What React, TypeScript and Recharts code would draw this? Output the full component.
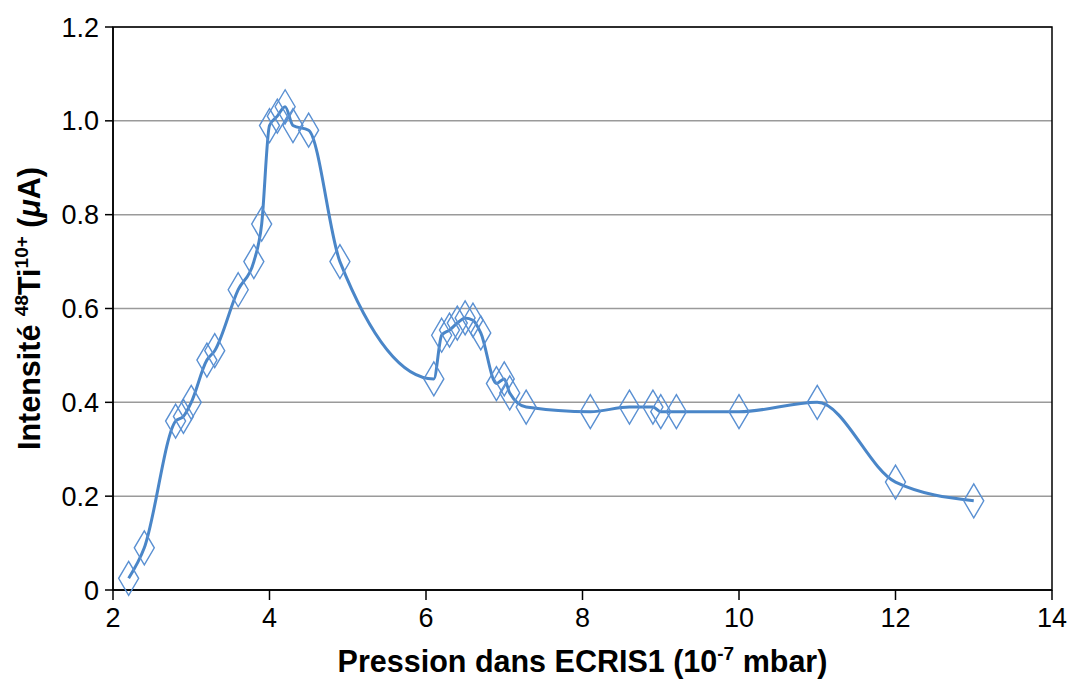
import React from 'react';
import { LineChart, Line, XAxis, YAxis, CartesianGrid, ReferenceArea } from 'recharts';

const pressure = [2.2, 2.4, 2.8, 2.9, 3.0, 3.2, 3.3, 3.6, 3.8, 3.9, 4.0, 4.1, 4.2, 4.3, 4.5, 4.9, 6.1, 6.2, 6.3, 6.4, 6.5, 6.6, 6.7, 6.9, 7.0, 7.07, 7.28, 8.1, 8.6, 8.9, 9.0, 9.2, 10.0, 11.0, 12.0, 13.0];
const intensity = [0.025, 0.09, 0.36, 0.37, 0.40, 0.49, 0.51, 0.64, 0.70, 0.78, 0.99, 1.01, 1.03, 0.99, 0.98, 0.70, 0.45, 0.543, 0.554, 0.569, 0.58, 0.575, 0.548, 0.44, 0.45, 0.42, 0.39, 0.38, 0.39, 0.39, 0.38, 0.38, 0.38, 0.40, 0.23, 0.19];
const xTicks = [2, 4, 6, 8, 10, 12, 14];
const yTicks = [0, 0.2, 0.4, 0.6, 0.8, 1.0, 1.2];

const data = pressure.map((p, i) => ({ p, v: intensity[i] }));

const LINE = '#4a86c8';
const MARK = '#5a90d2';
const FONT = '"Liberation Sans", Arial, sans-serif';

const Diamond = (props: any) => {
  const { cx, cy, index } = props;
  if (cx == null || cy == null) return <g key={index} />;
  const w = 10, h = 17;
  return (
    <path
      key={index}
      d={`M${cx},${cy - h} L${cx + w},${cy} L${cx},${cy + h} L${cx - w},${cy} Z`}
      fill="none"
      stroke={MARK}
      strokeWidth={1.4}
    />
  );
};

export default function App() {
  return (
    <div style={{ position: 'absolute', left: 0, top: 0, width: 1074, height: 680, background: '#fff' }}>
      <LineChart width={1074} height={680} data={data} margin={{ top: 27, right: 22, bottom: 0, left: 0 }}>
        <CartesianGrid vertical={false} stroke="#9a9a9a" strokeWidth={1.5} />
        <XAxis
          dataKey="p"
          type="number"
          domain={[2, 14]}
          ticks={xTicks}
          height={90}
          tickSize={10}
          tickMargin={8}
          axisLine={{ stroke: '#000', strokeWidth: 1.5 }}
          tickLine={{ stroke: '#000', strokeWidth: 1.5 }}
          tick={{ fill: '#000', fontSize: 27, fontFamily: FONT }}
        />
        <YAxis
          type="number"
          domain={[0, 1.2]}
          ticks={yTicks}
          width={113}
          tickSize={8}
          tickMargin={6}
          tickFormatter={(v: number) => (v === 0 ? '0' : v.toFixed(1))}
          axisLine={{ stroke: '#000', strokeWidth: 1.5 }}
          tickLine={{ stroke: '#000', strokeWidth: 1.5 }}
          tick={{ fill: '#000', fontSize: 27, fontFamily: FONT }}
        />
        <ReferenceArea x1={2} x2={14} y1={0} y2={1.2} fill="none" stroke="#000" strokeWidth={1.5} ifOverflow="visible" />
        <Line
          dataKey="v"
          type="monotone"
          stroke={LINE}
          strokeWidth={3}
          dot={Diamond}
          activeDot={false}
          isAnimationActive={false}
        />
      </LineChart>
      <svg width={1074} height={680} style={{ position: 'absolute', left: 0, top: 0, pointerEvents: 'none' }}>
        <text x={582.5} y={672} textAnchor="middle" fontFamily={FONT} fontWeight="bold" fontSize={30.5} fill="#000">
          Pression dans ECRIS1 (10
          <tspan fontSize={19} dy={-12}>-7</tspan>
          <tspan dy={12}> mbar)</tspan>
        </text>
        <text
          x={40}
          y={308.5}
          transform="rotate(-90 40 308.5)"
          textAnchor="middle"
          fontFamily={FONT}
          fontWeight="bold"
          fontSize={30.5}
          fill="#000"
        >
          Intensité{' '}
          <tspan fontSize={19} dy={-12}>48</tspan>
          <tspan dy={12}>Ti</tspan>
          <tspan fontSize={19} dy={-12}>10+</tspan>
          <tspan dy={12}> (</tspan>
          <tspan fontStyle="italic">μ</tspan>
          <tspan>A)</tspan>
        </text>
      </svg>
    </div>
  );
}
